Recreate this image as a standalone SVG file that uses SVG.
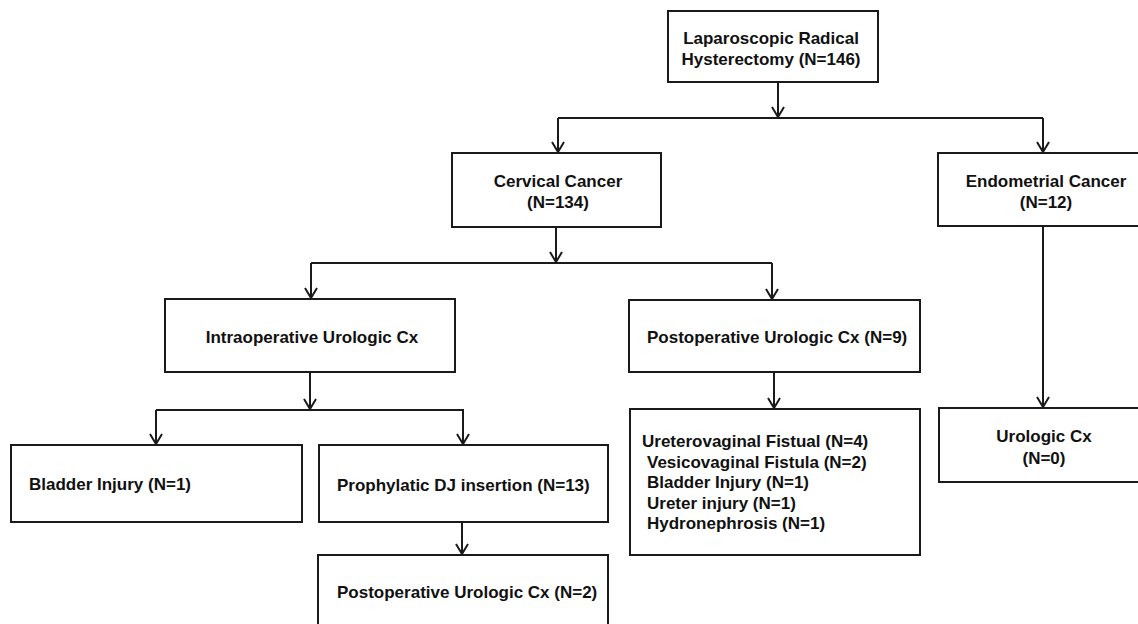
<svg xmlns="http://www.w3.org/2000/svg" width="1138" height="624" viewBox="0 0 1138 624">
<style>
.box{fill:#ffffff;stroke:#1a1a1a;stroke-width:2}
.t{font-family:"Liberation Sans",Arial,sans-serif;font-weight:bold;font-size:17px;fill:#111111}
.c{text-anchor:middle}
.ln{fill:none;stroke:#1a1a1a;stroke-width:2}
</style>
<defs>
<marker id="ah" viewBox="0 0 12 14" refX="11" refY="7" markerWidth="12" markerHeight="14" markerUnits="userSpaceOnUse" orient="auto">
<path d="M1,1 L11,7 L1,13" fill="none" stroke="#1a1a1a" stroke-width="2"/>
</marker>
</defs>
<rect width="1138" height="624" fill="#ffffff"/>
<g id="connectors">
<path class="ln" d="M778,82 V117" marker-end="url(#ah)"/>
<path class="ln" d="M558,118 H1043"/>
<path class="ln" d="M558,118 V152" marker-end="url(#ah)"/>
<path class="ln" d="M1043,118 V152" marker-end="url(#ah)"/>
<path class="ln" d="M556,227 V262" marker-end="url(#ah)"/>
<path class="ln" d="M311,263 H772"/>
<path class="ln" d="M311,263 V298" marker-end="url(#ah)"/>
<path class="ln" d="M772,263 V299" marker-end="url(#ah)"/>
<path class="ln" d="M310,372 V409" marker-end="url(#ah)"/>
<path class="ln" d="M156,410 H464"/>
<path class="ln" d="M156,410 V444" marker-end="url(#ah)"/>
<path class="ln" d="M463,410 V444" marker-end="url(#ah)"/>
<path class="ln" d="M774,372 V408" marker-end="url(#ah)"/>
<path class="ln" d="M1043,226 V407" marker-end="url(#ah)"/>
<path class="ln" d="M462,522 V554" marker-end="url(#ah)"/>
</g>
<g id="n-lrh">
<rect class="box" x="668" y="11" width="210" height="71"/>
<text class="t c" x="771" y="44">Laparoscopic Radical</text>
<text class="t c" x="771" y="65">Hysterectomy (N=146)</text>
</g>
<g id="n-cervical">
<rect class="box" x="452" y="153" width="209" height="74"/>
<text class="t c" x="558" y="187">Cervical Cancer</text>
<text class="t c" x="558" y="208">(N=134)</text>
</g>
<g id="n-endometrial">
<rect class="box" x="938" y="153" width="220" height="73"/>
<text class="t c" x="1046" y="187">Endometrial Cancer</text>
<text class="t c" x="1046" y="208">(N=12)</text>
</g>
<g id="n-intraop">
<rect class="box" x="165" y="299" width="290" height="73"/>
<text class="t c" x="312" y="343">Intraoperative Urologic Cx</text>
</g>
<g id="n-postop">
<rect class="box" x="629" y="300" width="291" height="72"/>
<text class="t" x="647" y="343">Postoperative Urologic Cx (N=9)</text>
</g>
<g id="n-bladder">
<rect class="box" x="11" y="445" width="291" height="77"/>
<text class="t" x="29" y="490">Bladder Injury (N=1)</text>
</g>
<g id="n-dj">
<rect class="box" x="319" y="445" width="289" height="77"/>
<text class="t" x="337" y="491">Prophylatic DJ insertion (N=13)</text>
</g>
<g id="n-postop-list">
<rect class="box" x="630" y="409" width="290" height="146"/>
<text class="t" x="642" y="447">Ureterovaginal Fistual (N=4)</text>
<text class="t" x="647" y="467.5">Vesicovaginal Fistula (N=2)</text>
<text class="t" x="647" y="488">Bladder Injury (N=1)</text>
<text class="t" x="647" y="508.5">Ureter injury (N=1)</text>
<text class="t" x="647" y="529">Hydronephrosis (N=1)</text>
</g>
<g id="n-urologic">
<rect class="box" x="939" y="408" width="220" height="74"/>
<text class="t c" x="1044" y="442">Urologic Cx</text>
<text class="t c" x="1044" y="464">(N=0)</text>
</g>
<g id="n-postop2">
<rect class="box" x="318" y="555" width="290" height="80"/>
<text class="t" x="337" y="598">Postoperative Urologic Cx (N=2)</text>
</g>
</svg>
